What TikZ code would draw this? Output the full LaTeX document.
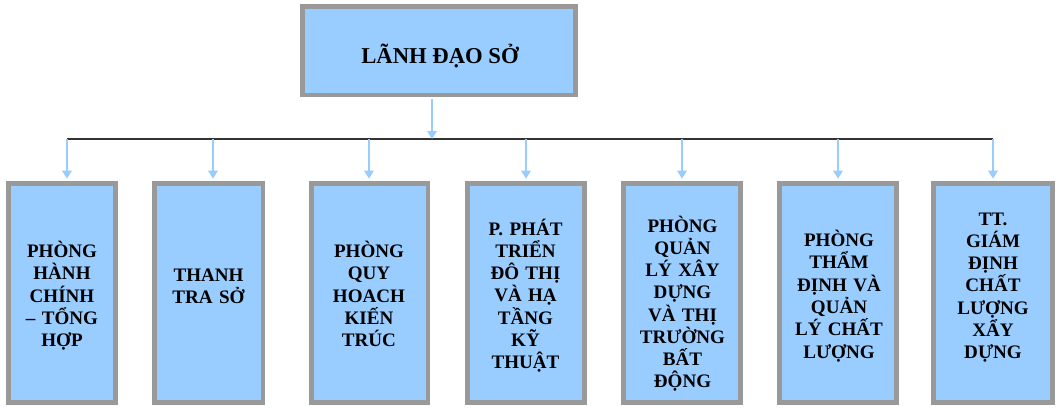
\documentclass[tikz,border=0pt]{standalone}
\usepackage{fontspec}
\setmainfont{Liberation Serif}
\usetikzlibrary{arrows.meta}
\definecolor{boxblue}{HTML}{99CCFF}
\definecolor{boxgray}{HTML}{999999}
\begin{document}
\begin{tikzpicture}[x=0.75pt,y=-0.75pt,
  box/.style={draw=boxgray, fill=boxblue, line width=3.4pt, inner sep=0pt, rectangle, minimum height=164.6pt},
  lbl/.style={font=\bfseries\fontsize{14.3}{16.7}\selectfont, align=center, text width=100pt, inner sep=0pt, anchor=base},
  arr/.style={draw=boxblue, line width=1.7pt, -{Triangle[length=6pt,width=7pt]}},
  bus/.style={draw=black!80, line width=1.1pt}]
\useasboundingbox (0,0) rectangle (1063,414);
% top box
\node[box, minimum width=205.1pt, minimum height=66.4pt] (top) at (439,50.5) {};
\node[font=\bfseries\fontsize{17}{20}\selectfont, anchor=base, inner sep=0pt] (toptext) at (440,63.3) {LÃNH ĐẠO SỞ};
% child boxes
\node[box, minimum width=80.6pt] (c1) at (62,293) {};
\node[box, minimum width=81.4pt] (c2) at (208.5,293) {};
\node[box, minimum width=87.4pt] (c3) at (369.5,293) {};
\node[box, minimum width=88.1pt] (c4) at (526,293) {};
\node[box, minimum width=88.1pt] (c5) at (682,293) {};
\node[box, minimum width=88.1pt] (c6) at (838,293) {};
\node[box, minimum width=89.6pt] (c7) at (993,293) {};
% texts
\node[lbl] (t1) at (62,257.7) {PHÒNG\\HÀNH\\CHÍNH\\– TỔNG\\HỢP};
\node[lbl] (t2) at (208.5,281) {THANH\\TRA SỞ};
\node[lbl] (t3) at (369,257.7) {PHÒNG\\QUY\\HOACH\\KIẾN\\TRÚC};
\node[lbl] (t4) at (525.5,235) {P. PHÁT\\TRIỂN\\ĐÔ THỊ\\VÀ HẠ\\TẦNG\\KỸ\\THUẬT};
\begin{scope}
\clip (625,185) rectangle (739,396);
\node[lbl] (t5) at (682.5,232) {PHÒNG\\QUẢN\\LÝ XÂY\\DỰNG\\VÀ THỊ\\TRƯỜNG\\BẤT\\ĐỘNG};
\end{scope}
\node[lbl] (t6) at (839,246.7) {PHÒNG\\THẨM\\ĐỊNH VÀ\\QUẢN\\LÝ CHẤT\\LƯỢNG};
\node[lbl] (t7) at (993,225) {TT.\\GIÁM\\ĐỊNH\\CHẤT\\LƯỢNG\\XẨY\\DỰNG};
% bus
\coordinate (hub) at (432,139);
\coordinate (b1) at (67,139);
\coordinate (b2) at (213,139);
\coordinate (b3) at (369,139);
\coordinate (b4) at (526,139);
\coordinate (b5) at (682,139);
\coordinate (b6) at (838,139);
\coordinate (b7) at (993,139);
\draw[bus] (b1) -- (b7);
\draw[arr, shorten <=1.7pt] (hub |- top.south) -- (hub);
\foreach \i in {1,...,7}{
  \draw[arr, shorten >=1.7pt] (b\i) -- (b\i |- c\i.north);
}
\end{tikzpicture}
\end{document}
